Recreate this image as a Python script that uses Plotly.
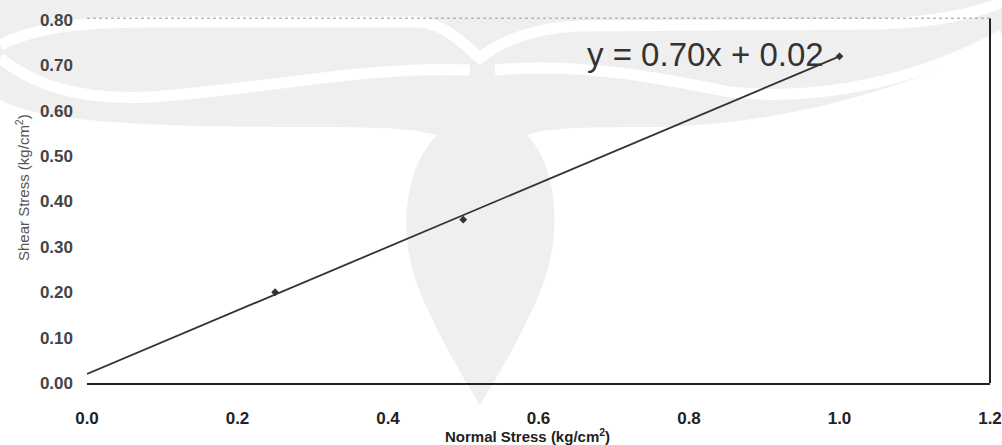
import plotly.graph_objects as go

# Direct shear test results
normal_stress = [0.25, 0.50, 1.00]   # kg/cm^2
shear_stress = [0.20, 0.36, 0.72]    # kg/cm^2

# Linear fit reported on the chart
slope = 0.70
intercept = 0.02
fit_x = [0.0, 1.0]
fit_y = [slope * v + intercept for v in fit_x]

x_ticks = [0.0, 0.2, 0.4, 0.6, 0.8, 1.0, 1.2]
y_ticks = [0.0, 0.1, 0.2, 0.3, 0.4, 0.5, 0.6, 0.7, 0.8]

W, H = 1002, 445
L, R, T, B = 87, 12, 20, 62
PW, PH = W - L - R, H - T - B


def px(x):
    return (x - L) / PW


def py(y):
    return (H - B - y) / PH


def path(cmds):
    out = []
    for c, pts in cmds:
        out.append(c + " ".join(f"{px(a):.4f},{py(b):.4f}" for a, b in pts))
    return " ".join(out)


fig = go.Figure()

fig.add_trace(go.Scatter(
    x=fit_x, y=fit_y, mode="lines",
    line=dict(color="#333333", width=1.8),
    hoverinfo="skip", showlegend=False,
))
fig.add_trace(go.Scatter(
    x=normal_stress, y=shear_stress, mode="markers",
    marker=dict(symbol="diamond", size=6, color="#333333"),
    showlegend=False,
))

# Faint emblem in the background
wm = "#efefef"
shapes = []
shapes.append(dict(
    type="path", xref="paper", yref="paper", layer="below",
    fillcolor=wm, line=dict(width=0),
    path=path([
        ("M", [(0, 0)]), ("L", [(1002, 0)]), ("L", [(1002, 40)]),
        ("C", [(900, 95), (760, 128), (640, 127)]),
        ("C", [(585, 127), (545, 128), (527, 135)]),
        ("C", [(560, 170), (562, 240), (540, 292)]),
        ("C", [(520, 340), (495, 380), (480, 405)]),
        ("C", [(465, 380), (440, 340), (420, 292)]),
        ("C", [(398, 240), (402, 170), (437, 135)]),
        ("C", [(410, 128), (380, 127), (300, 127)]),
        ("C", [(150, 127), (40, 122), (0, 100)]),
        ("Z", []),
    ]),
))
for seg in [
    [("M", [(0, 45)]), ("C", [(40, 25), (90, 22), (160, 22)]),
     ("L", [(420, 22)]), ("C", [(445, 24), (465, 45), (480, 58)]),
     ("C", [(500, 42), (530, 28), (580, 26)]), ("L", [(880, 24)]),
     ("C", [(940, 22), (980, 12), (1002, 2)])],
    [("M", [(0, 58)]), ("C", [(40, 90), (90, 100), (150, 97)]),
     ("C", [(260, 90), (360, 66), (470, 70)])],
    [("M", [(495, 70)]), ("C", [(580, 62), (660, 78), (730, 92)]),
     ("C", [(820, 102), (920, 80), (1002, 35)])],
]:
    shapes.append(dict(
        type="path", xref="paper", yref="paper", layer="below",
        line=dict(color="white", width=11), path=path(seg),
    ))

# Frame: right border and faint top border
shapes.append(dict(type="line", xref="paper", yref="paper", x0=1, x1=1,
                   y0=0, y1=1.005, line=dict(color="#222222", width=2)))
shapes.append(dict(type="line", xref="paper", yref="paper", x0=0, x1=1,
                   y0=1.005, y1=1.005,
                   line=dict(color="#999999", width=1, dash="dot")))

fig.update_layout(
    width=W, height=H,
    margin=dict(l=L, r=R, t=T, b=B, autoexpand=False),
    paper_bgcolor="white", plot_bgcolor="white",
    shapes=shapes,
    font=dict(family="Liberation Sans, Arial, sans-serif", color="#333333"),
    annotations=[
        dict(text="y = 0.70x + 0.02", xref="paper", yref="paper",
             x=px(705), y=py(55), xanchor="center", yanchor="middle",
             showarrow=False, font=dict(size=33, color="#333333")),
        dict(text="Shear Stress (kg/cm<sup>2</sup>)", xref="paper",
             yref="paper", x=px(22), y=py(188), textangle=-90,
             xanchor="center", yanchor="middle",
             showarrow=False, font=dict(size=15, color="#555555")),
        dict(text="<b>Normal Stress (kg/cm<sup>2</sup>)</b>", xref="paper",
             yref="paper", x=px(527), y=py(435),
             xanchor="center", yanchor="middle", showarrow=False,
             font=dict(size=15, color="#222222",
                       family="Liberation Sans Narrow, Arial Narrow, Liberation Sans")),
    ],
)

fig.update_xaxes(
    range=[0, 1.2], tickvals=x_ticks, tickformat=".1f",
    showgrid=False, zeroline=False, automargin=False,
    showline=True, linecolor="#222222", linewidth=2,
    ticks="", ticklabelstandoff=19,
    tickfont=dict(size=17, color="#222222",
                  family="Liberation Sans, Arial, sans-serif", weight="bold"),
)
fig.update_yaxes(
    range=[0, 0.8], tickvals=y_ticks, tickformat=".2f",
    showgrid=False, zeroline=False, showline=False, automargin=False,
    ticks="", ticklabelstandoff=13,
    tickfont=dict(size=17, color="#444444",
                  family="Liberation Sans, Arial, sans-serif", weight="bold"),
)

fig.write_html("out.html")
